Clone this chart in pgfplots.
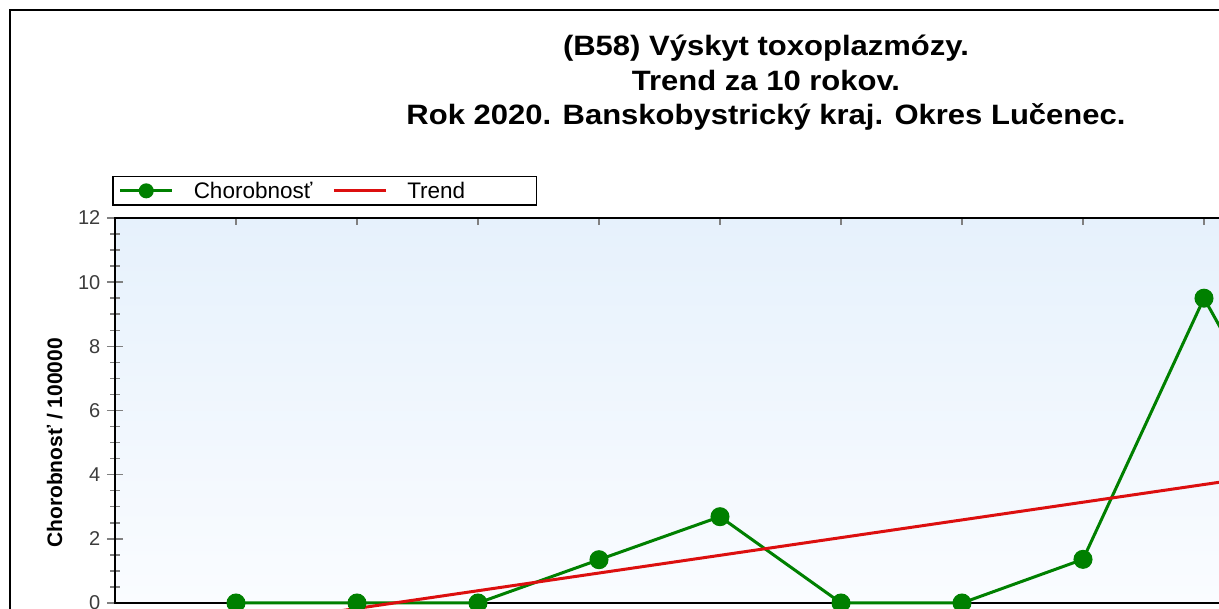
\documentclass[border=0pt]{standalone}
\usepackage{graphicx}
\usepackage{pgfplots}
\pgfplotsset{compat=1.18}
\usepackage{fontspec}
\setmainfont{Liberation Sans}
\definecolor{grn}{RGB}{0,128,0}
\definecolor{trd}{RGB}{220,15,15}
\definecolor{tlab}{RGB}{60,60,60}
\definecolor{bgtop}{RGB}{230,241,252}
\definecolor{bgbot}{RGB}{250,252,255}
\newcommand{\ttl}[1]{\scalebox{1.107}[1]{\fontsize{28bp}{33bp}\selectfont\bfseries #1}}
\begin{document}
\begin{tikzpicture}
\draw[line width=1.5bp] (10bp,-100bp) -- (10bp,599bp) -- (2000bp,599bp);
\node[anchor=base, inner sep=0pt] at (766bp,553.3bp) {\ttl{(B58) Výskyt toxoplazmózy.}};
\node[anchor=base, inner sep=0pt] at (766bp,518.8bp) {\ttl{Trend za 10 rokov.}};
\node[anchor=base, inner sep=0pt] at (766bp,484.3bp) {\ttl{Rok 2020. Banskobystrický kraj. Okres Lučenec.}};
\begin{axis}[
  at={(115bp,6bp)}, anchor=origin,
  scale only axis, width=1331bp, height=385bp,
  xmin=0, xmax=11, ymin=0, ymax=12,
  clip=false,
  axis background/.style={top color=bgtop, bottom color=bgbot},
  axis line style={line width=1.5bp},
  xtick={1,...,10},
  xticklabels={},
  xtick pos=right,
  xtick align=inside,
  xtick style={line width=1.5bp, /pgfplots/major tick length=7bp},
  ytick={0,2,...,12}, minor y tick num=3,
  ytick pos=left, ytick align=center,
  ytick style={line width=1.5bp, /pgfplots/major tick length=16bp, /pgfplots/minor tick length=10bp},
  /pgf/number format/assume math mode=true,
  tick label style={font=\fontsize{20bp}{24bp}\selectfont, text=tlab},
  yticklabel style={xshift=-9bp},
  ylabel={Chorobnosť / 100000},
  ylabel style={at={(axis description cs:-0.0452,0.4156)}, anchor=center, font=\fontsize{21bp}{24bp}\selectfont\bfseries},
  legend columns=2,
  legend style={at={(axis description cs:0,1)}, anchor=south west, xshift=-3bp, yshift=12bp,
    draw=black, line width=1.5bp, fill=white,
    font=\fontsize{22.5bp}{26bp}\selectfont,
    inner xsep=6bp, inner ysep=5.5bp,
    nodes={inner sep=0pt},
    /tikz/every odd column/.style={column sep=20bp},
    /tikz/every even column/.style={column sep=20bp}},
  legend image code/.code={\draw[mark repeat=2,mark phase=2,#1,mark size=6bp] plot coordinates {(0bp,0bp) (26bp,0bp) (52bp,0bp)};},
]
\addplot[grn, line width=3bp, mark=*, mark size=8bp, mark options={solid}] coordinates {
  (1,0) (2,0) (3,0) (4,1.35) (5,2.69) (6,0) (7,0) (8,1.36) (9,9.5) (10,2.72)};
\addlegendentry{Chorobnosť}
\addplot[trd, line width=3bp] coordinates {(1,-0.721) (10,4.245)};
\addlegendentry{\makebox[123bp][l]{Trend}}
\end{axis}
\pgfresetboundingbox
\useasboundingbox (0bp,0bp) rectangle (1219bp,609bp);
\end{tikzpicture}
\end{document}
